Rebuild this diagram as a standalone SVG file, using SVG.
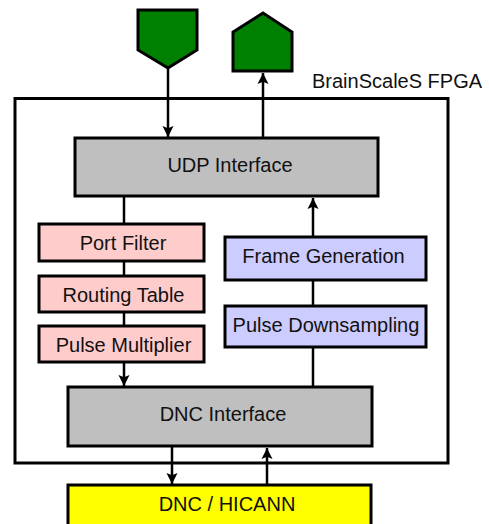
<svg xmlns="http://www.w3.org/2000/svg" width="489" height="524" viewBox="0 0 489 524">
<style>
  .box{stroke:#000;stroke-width:3}
  .gray{fill:#bfbfbf}
  .pink{fill:#ffcccc}
  .blue{fill:#ccccff}
  .yellow{fill:#ffff00}
  .green{fill:#008000;stroke:#000;stroke-width:3;stroke-linejoin:miter}
  .lbl{font-family:"Liberation Sans",Arial,sans-serif;font-size:20px;fill:#111;text-anchor:middle}
  .conn{stroke:#000;stroke-width:2.5;fill:none}
</style>
<defs>
  <marker id="ah" viewBox="0 0 10 10" refX="10" refY="5" markerWidth="11" markerHeight="12" markerUnits="userSpaceOnUse" orient="auto">
    <path d="M0,0 L10,5 L0,10 L2,5 Z" fill="#000"/>
  </marker>
</defs>
<rect width="489" height="524" fill="#fff"/>
<g id="fpga">
  <rect x="15" y="98.5" width="433" height="364.5" fill="none" stroke="#000" stroke-width="3"/>
  <text x="312" y="88" font-family="Liberation Sans,Arial,sans-serif" font-size="20" fill="#111">BrainScaleS FPGA</text>
</g>
<g id="connectors">
  <line class="conn" x1="168" y1="68" x2="168" y2="137" marker-end="url(#ah)"/>
  <line class="conn" x1="263" y1="138" x2="263" y2="73" marker-end="url(#ah)"/>
  <line class="conn" x1="124" y1="196" x2="124" y2="224"/>
  <line class="conn" x1="124" y1="261" x2="124" y2="276"/>
  <line class="conn" x1="124" y1="312" x2="124" y2="326"/>
  <line class="conn" x1="124" y1="362" x2="124" y2="386" marker-end="url(#ah)"/>
  <line class="conn" x1="313" y1="237" x2="313" y2="198" marker-end="url(#ah)"/>
  <line class="conn" x1="313" y1="280" x2="313" y2="306"/>
  <line class="conn" x1="313" y1="347" x2="313" y2="387"/>
  <line class="conn" x1="172" y1="446" x2="172" y2="484" marker-end="url(#ah)"/>
  <line class="conn" x1="267" y1="485" x2="267" y2="448" marker-end="url(#ah)"/>
</g>
<g id="input-port">
  <polygon class="green" points="138,10 197,10 197,50 168,68 138,50"/>
</g>
<g id="output-port">
  <polygon class="green" points="233,71 292,71 292,32 263,13 233,32"/>
</g>
<g id="udp">
  <rect class="box gray" x="75" y="138" width="303" height="58"/>
  <text class="lbl" x="230" y="172">UDP Interface</text>
</g>
<g id="port-filter">
  <rect class="box pink" x="39" y="224" width="165" height="37"/>
  <text class="lbl" x="123" y="250">Port Filter</text>
</g>
<g id="routing-table">
  <rect class="box pink" x="39" y="276" width="165" height="36"/>
  <text class="lbl" x="123.5" y="302">Routing Table</text>
</g>
<g id="pulse-multiplier">
  <rect class="box pink" x="39" y="326" width="165" height="36"/>
  <text class="lbl" x="123.5" y="352">Pulse Multiplier</text>
</g>
<g id="frame-generation">
  <rect class="box blue" x="225" y="237" width="201" height="43"/>
  <text class="lbl" x="323.5" y="263">Frame Generation</text>
</g>
<g id="pulse-downsampling">
  <rect class="box blue" x="225" y="306" width="201" height="41"/>
  <text class="lbl" x="326" y="332">Pulse Downsampling</text>
</g>
<g id="dnc-interface">
  <rect class="box gray" x="68" y="387" width="304" height="59"/>
  <text class="lbl" x="223" y="421">DNC Interface</text>
</g>
<g id="dnc-hicann">
  <rect class="box yellow" x="68" y="485" width="303" height="50"/>
  <text class="lbl" x="227" y="511">DNC / HICANN</text>
</g>
</svg>
